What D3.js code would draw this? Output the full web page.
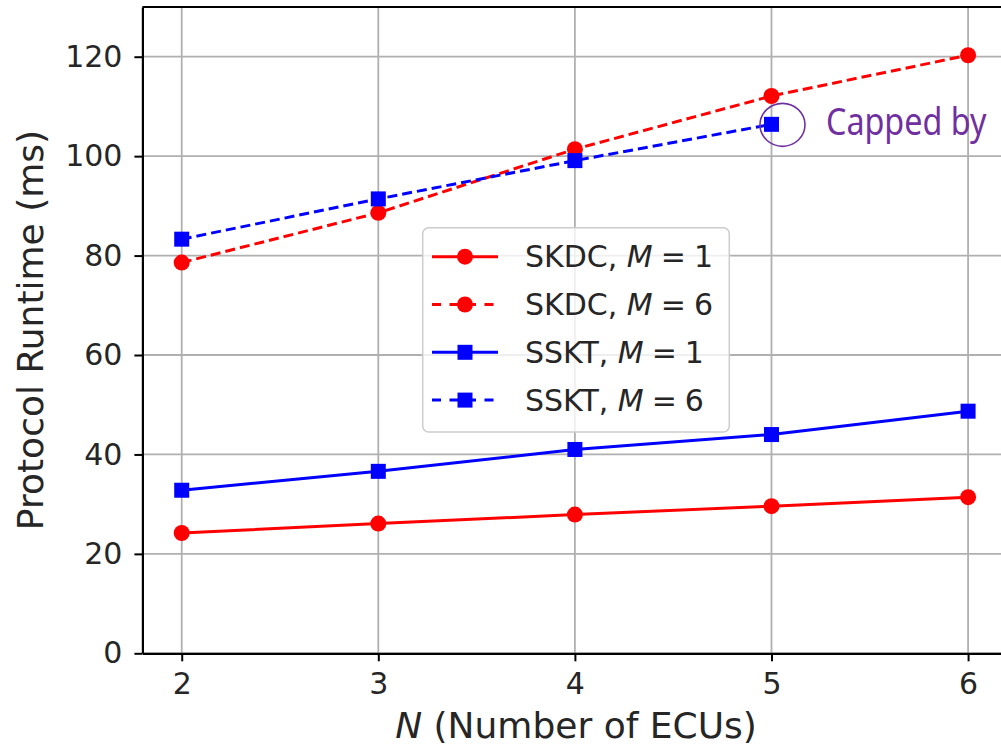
<!DOCTYPE html>
<html>
<head>
<meta charset="utf-8">
<script src="https://cdn.jsdelivr.net/npm/d3@7"></script>
<style>
  html, body { margin: 0; padding: 0; background: #fff; overflow: hidden; }
  svg { display: block; font-family: "DejaVu Sans", sans-serif; }
</style>
</head>
<body>
<script>
// values
const nValues = [2, 3, 4, 5, 6];
const skdcM1 = [24.2, 26.1, 27.9, 29.6, 31.4];
const skdcM6 = [78.6, 88.6, 101.4, 112.1, 120.3];
const ssktM1 = [32.8, 36.6, 41.0, 44.0, 48.7];
const ssktM6 = [83.3, 91.4, 99.1, 106.4];   // stops at N = 5
const yTicks = [0, 20, 40, 60, 80, 100, 120];
const seriesNames = ['SKDC', 'SKDC', 'SSKT', 'SSKT'];
const seriesM = ['1', '6', '1', '6'];
const capNote = 'Capped by';

const w = 1001, h = 745;
const margin = { top: 7, left: 142.4, bottom: 653.3, right: 1007.4 };
const red = '#ff0000', blue = '#0000ff', purple = '#7030A0';

const series = [
  { vals: skdcM1, color: red, dash: null, shape: 'circle' },
  { vals: skdcM6, color: red, dash: '10,5', shape: 'circle' },
  { vals: ssktM1, color: blue, dash: null, shape: 'square' },
  { vals: ssktM6, color: blue, dash: '10,5', shape: 'square' }
];

const x = d3.scaleLinear().domain([1.8, 6.2]).range([margin.left, margin.right]);
const y = d3.scaleLinear().domain([0, 130]).range([margin.bottom, margin.top]);

const svg = d3.select('body').append('svg')
  .attr('width', w)
  .attr('height', h);

// grid
svg.append('g').selectAll('line.vg')
  .data(nValues).enter().append('line')
  .attr('x1', d => x(d)).attr('x2', d => x(d))
  .attr('y1', margin.top).attr('y2', margin.bottom)
  .attr('stroke', '#b0b0b0').attr('stroke-width', 1.8);

svg.append('g').selectAll('line.hg')
  .data(yTicks).enter().append('line')
  .attr('x1', margin.left).attr('x2', margin.right)
  .attr('y1', d => y(d)).attr('y2', d => y(d))
  .attr('stroke', '#b0b0b0').attr('stroke-width', 1.8);

// axes
const xAxisG = svg.append('g')
  .attr('transform', `translate(0,${margin.bottom})`)
  .call(d3.axisBottom(x).tickValues(nValues).tickFormat(d3.format('d'))
    .tickSize(8).tickSizeOuter(0).tickPadding(11.5));

const yAxisG = svg.append('g')
  .attr('transform', `translate(${margin.left},0)`)
  .call(d3.axisLeft(y).tickValues(yTicks)
    .tickSize(8).tickSizeOuter(0).tickPadding(12));

[xAxisG, yAxisG].forEach(g => {
  g.selectAll('text').attr('font-size', 30).attr('fill', '#262626')
    .attr('font-family', '"DejaVu Sans", sans-serif');
  g.selectAll('line').attr('stroke', '#000').attr('stroke-width', 2);
  g.select('.domain').attr('stroke', '#000').attr('stroke-width', 2.2);
});

// top spine
svg.append('line')
  .attr('x1', margin.left).attr('x2', margin.right)
  .attr('y1', margin.top).attr('y2', margin.top)
  .attr('stroke', '#000').attr('stroke-width', 2.2);

// lines and markers
const line = d3.line().x((d, i) => x(nValues[i])).y(d => y(d));

const drawMarker = (g, shape, color, cx, cy) => {
  if (shape === 'circle') {
    g.append('circle').attr('cx', cx).attr('cy', cy).attr('r', 8).attr('fill', color);
  } else {
    g.append('rect').attr('x', cx - 7.5).attr('y', cy - 7.5)
      .attr('width', 15).attr('height', 15).attr('fill', color);
  }
};

series.forEach(s => {
  const g = svg.append('g');
  g.append('path')
    .attr('d', line(s.vals))
    .attr('fill', 'none')
    .attr('stroke', s.color)
    .attr('stroke-width', 3)
    .attr('stroke-dasharray', s.dash);
  s.vals.forEach((v, i) => drawMarker(g, s.shape, s.color, x(nValues[i]), y(v)));
});

// legend
const legend = svg.append('g');
legend.append('rect')
  .attr('x', 422.7).attr('y', 227.7)
  .attr('width', 306.6).attr('height', 204.3)
  .attr('rx', 6).attr('ry', 6)
  .attr('fill', 'rgba(255,255,255,0.8)')
  .attr('stroke', '#cccccc').attr('stroke-width', 1.5);

series.forEach((s, i) => {
  const cy = 256.7 + i * 47.8;
  legend.append('line')
    .attr('x1', 432).attr('x2', 498)
    .attr('y1', cy).attr('y2', cy)
    .attr('stroke', s.color).attr('stroke-width', 3)
    .attr('stroke-dasharray', s.dash ? '9,8.5' : null);
  drawMarker(legend, s.shape, s.color, 465, cy);
  const t = legend.append('text')
    .attr('x', 525).attr('y', cy + 10.5)
    .attr('font-size', 30).attr('fill', '#262626');
  t.append('tspan').text(`${seriesNames[i]}, `);
  t.append('tspan').attr('font-style', 'italic').text('M');
  t.append('tspan').attr('dx', 8).text('=');
  t.append('tspan').attr('dx', 8).text(seriesM[i]);
});

// axis labels
svg.append('text')
  .attr('x', 576).attr('y', 738)
  .attr('text-anchor', 'middle')
  .attr('font-size', 36).attr('fill', '#262626')
  .call(t => {
    t.append('tspan').attr('font-style', 'italic').text('N');
    t.append('tspan').text(' (Number of ECUs)');
  });

svg.append('text')
  .attr('transform', 'translate(43,330) rotate(-90)')
  .attr('text-anchor', 'middle')
  .attr('font-size', 36).attr('fill', '#262626')
  .text('Protocol Runtime (ms)');

// annotation
svg.append('ellipse')
  .attr('cx', x(5) + 11).attr('cy', y(ssktM6[3]) + 0.5)
  .attr('rx', 22.5).attr('ry', 21.5)
  .attr('fill', 'none').attr('stroke', purple).attr('stroke-width', 1.6);

svg.append('text')
  .attr('transform', 'translate(826,135) scale(0.85,1)')
  .attr('font-family', '"Noto Sans", sans-serif')
  .attr('font-size', 38).attr('fill', purple)
  .text(capNote);
</script>
</body>
</html>
